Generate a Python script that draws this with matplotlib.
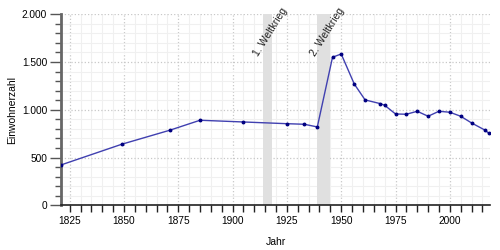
import matplotlib
matplotlib.use('Agg')
import matplotlib.pyplot as plt
from matplotlib.ticker import MultipleLocator, FuncFormatter

plt.rcParams['font.family'] = ['Liberation Sans', 'DejaVu Sans']

# Einwohnerentwicklung
years = [1821, 1849, 1871, 1885, 1905, 1925, 1933, 1939, 1946, 1950, 1956,
         1961, 1968, 1970, 1975, 1980, 1985, 1990, 1995, 2000, 2005, 2010,
         2016, 2018]
population = [422, 639, 785, 890, 872, 854, 848, 820, 1550, 1584, 1270,
              1103, 1064, 1047, 956, 953, 984, 932, 984, 974, 932, 862,
              789, 754]

wars = [(1914, 1918, '1. Weltkrieg'), (1939, 1945, '2. Weltkrieg')]

fig = plt.figure(figsize=(5, 2.5), dpi=100)
ax = fig.add_axes([0.122, 0.179, 0.858, 0.764])

for start, end, label in wars:
    ax.axvspan(start, end, color='#e0e0e0', lw=0, zorder=1)
    ax.text((start + end) / 2 + 1.5, 1810, label, rotation=58, ha='center',
            va='center', fontsize=7.5, color='#222222', clip_on=False, zorder=5)

ax.plot(years, population, color='#4040b0', lw=1, marker='o', ms=1.8,
        mfc='#000080', mec='#000080', zorder=4)

ax.set_xlim(1821, 2018.5)
ax.set_ylim(0, 2000)

ax.xaxis.set_major_locator(MultipleLocator(25))
ax.xaxis.set_minor_locator(MultipleLocator(5))
ax.yaxis.set_major_locator(MultipleLocator(500))
ax.yaxis.set_minor_locator(MultipleLocator(100))
ax.yaxis.set_major_formatter(FuncFormatter(lambda v, p: f'{int(v):,}'.replace(',', '.')))

ax.grid(which='major', color='#c8c8c8', ls=':', lw=0.9, zorder=2)
ax.grid(which='minor', color='#f0f0f0', ls='-', lw=0.8, zorder=0)
ax.set_axisbelow(True)

for s in ['top', 'right']:
    ax.spines[s].set_visible(False)
ax.spines['left'].set_color('#666666')
ax.spines['left'].set_linewidth(2)
ax.spines['bottom'].set_color('#222222')
ax.spines['bottom'].set_linewidth(1.2)

ax.tick_params(axis='y', which='major', length=8, width=1, color='#555555', labelsize=7.3, pad=2)
ax.tick_params(axis='y', which='minor', length=4, width=1, color='#555555')
ax.tick_params(axis='x', which='both', length=5, width=1, color='#222222', labelsize=7.3, pad=3)

ax.set_xlabel('Jahr', fontsize=7.5, labelpad=8)
ax.set_ylabel('Einwohnerzahl', fontsize=7.5)
ax.yaxis.set_label_coords(-0.102, 0.5)

fig.savefig('out.png', dpi=100)
